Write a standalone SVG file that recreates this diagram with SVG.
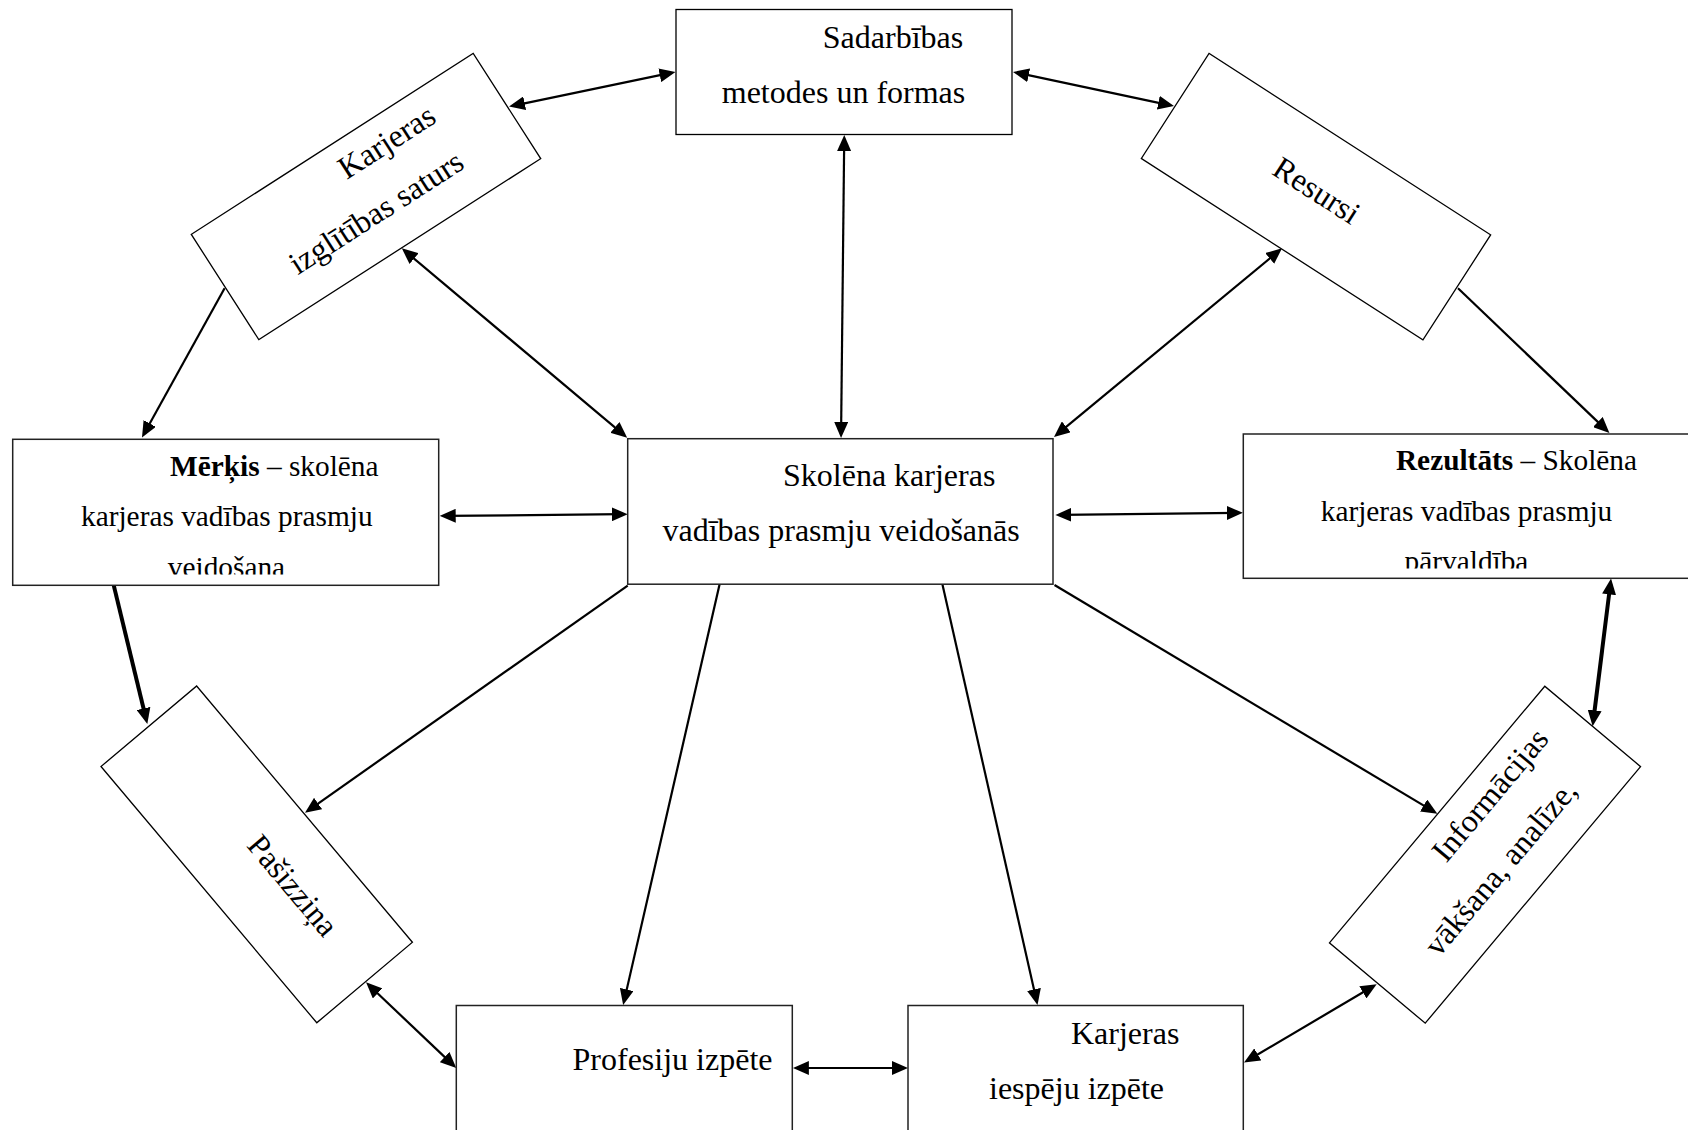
<svg xmlns="http://www.w3.org/2000/svg" width="1688" height="1130" viewBox="0 0 1688 1130">
<style>
  .box { fill: #fff; stroke: #000; stroke-width: 1.3; }
  .boxh { fill: #fff; stroke: #222; stroke-width: 1.5; }
  .t { font-family: "Liberation Serif", "Times New Roman", serif; font-size: 32px; fill: #000; text-anchor: middle; }
  .ts { font-family: "Liberation Serif", "Times New Roman", serif; font-size: 29.33px; fill: #000; text-anchor: middle; }
  .b { font-weight: bold; }
  .c { fill: none; stroke: #000; stroke-width: 2.2; }
  .ck { fill: none; stroke: #000; stroke-width: 4; }
</style>
<defs>
  <marker id="ah" markerUnits="userSpaceOnUse" markerWidth="16" markerHeight="14" refX="10" refY="7" orient="auto-start-reverse">
    <path d="M0,0 L16,7 L0,14 z" fill="#000"/>
  </marker>
  <clipPath id="clipMerkis"><rect x="13" y="440" width="425" height="134.5"/></clipPath>
  <clipPath id="clipRez"><rect x="1244" y="435" width="444" height="133.5"/></clipPath>
</defs>
<rect width="1688" height="1130" fill="#fff"/>

<g id="connectors">
  <line class="c" x1="514.9" y1="105.3" x2="669.6" y2="73.2" marker-start="url(#ah)" marker-end="url(#ah)"/>
  <line class="c" x1="1018.9" y1="73.2" x2="1168.1" y2="104.8" marker-start="url(#ah)" marker-end="url(#ah)"/>
  <line class="c" x1="844.2" y1="141" x2="841.1" y2="432" marker-start="url(#ah)" marker-end="url(#ah)"/>
  <line class="c" x1="406.4" y1="252.2" x2="622.6" y2="433.8" marker-start="url(#ah)" marker-end="url(#ah)"/>
  <line class="c" x1="1277.4" y1="252.1" x2="1058.6" y2="433.2" marker-start="url(#ah)" marker-end="url(#ah)"/>
  <line class="c" x1="224.6" y1="288.3" x2="144.9" y2="432.2" marker-end="url(#ah)"/>
  <line class="c" x1="1458" y1="288.3" x2="1605.1" y2="428.9" marker-end="url(#ah)"/>
  <line class="c" x1="445.7" y1="515.9" x2="621.7" y2="514.2" marker-start="url(#ah)" marker-end="url(#ah)"/>
  <line class="c" x1="1061.4" y1="514.9" x2="1236.9" y2="512.9" marker-start="url(#ah)" marker-end="url(#ah)"/>
  <line class="ck" x1="113.8" y1="585.6" x2="145.9" y2="718.2" marker-end="url(#ah)"/>
  <line class="c" x1="627.7" y1="585.6" x2="309.9" y2="809.3" marker-end="url(#ah)"/>
  <line class="c" x1="719.6" y1="584.3" x2="624.5" y2="999.2" marker-end="url(#ah)"/>
  <line class="c" x1="942.4" y1="584.3" x2="1036.2" y2="999.2" marker-end="url(#ah)"/>
  <line class="c" x1="1054.5" y1="585" x2="1432.2" y2="810.6" marker-end="url(#ah)"/>
  <line class="ck" x1="1610.3" y1="584.4" x2="1593.4" y2="720.3" marker-start="url(#ah)" marker-end="url(#ah)"/>
  <line class="c" x1="370.4" y1="986.5" x2="451.9" y2="1063.9" marker-start="url(#ah)" marker-end="url(#ah)"/>
  <line class="c" x1="798.9" y1="1068" x2="902" y2="1068" marker-start="url(#ah)" marker-end="url(#ah)"/>
  <line class="c" x1="1249.2" y1="1059.5" x2="1371.5" y2="987.3" marker-start="url(#ah)" marker-end="url(#ah)"/>
</g>

<g id="node-sadarbibas">
  <rect class="box" x="676" y="9.5" width="336" height="125"/>
  <text class="t" x="893" y="48.3">Sadarbības</text>
  <text class="t" x="843.5" y="103.3">metodes un formas</text>
</g>

<g id="node-karjeras-saturs" transform="translate(366,196.5) rotate(-32.7)">
  <rect class="box" x="-167.5" y="-62.5" width="335" height="125"/>
  <text class="t" x="47" y="-24.3">Karjeras</text>
  <text class="t" x="0" y="29.5">izglītības saturs</text>
</g>

<g id="node-resursi" transform="translate(1316,196.7) rotate(32.8)">
  <rect class="box" x="-167.5" y="-62.5" width="335" height="125"/>
  <text class="t" x="-2.8" y="5">Resursi</text>
</g>

<g id="node-merkis">
  <rect class="boxh" x="12.7" y="439.3" width="426" height="146"/>
  <g clip-path="url(#clipMerkis)">
    <text class="ts" x="274.3" y="475.7"><tspan class="b">Mērķis</tspan> – skolēna</text>
    <text class="ts" x="226.8" y="526.4">karjeras vadības prasmju</text>
    <text class="ts" x="226.5" y="577.1">veidošana</text>
  </g>
</g>

<g id="node-centrs">
  <rect class="boxh" x="627.7" y="438.7" width="425.3" height="145.5"/>
  <text class="t" x="889.2" y="485.6">Skolēna karjeras</text>
  <text class="t" x="841.1" y="541.3">vadības prasmju veidošanās</text>
</g>

<g id="node-rezultats">
  <rect class="boxh" x="1243.3" y="434" width="450" height="144.3"/>
  <g clip-path="url(#clipRez)">
    <text class="ts" x="1516.5" y="470"><tspan class="b">Rezultāts</tspan> – Skolēna</text>
    <text class="ts" x="1466.5" y="520.7">karjeras vadības prasmju</text>
    <text class="ts" x="1466.5" y="571.4">pārvaldība</text>
  </g>
</g>

<g id="node-pasizzina" transform="translate(256.7,854.4) rotate(49.9)">
  <rect class="box" x="-167.5" y="-62.5" width="335" height="125"/>
  <text class="t" x="47" y="3">Pašizziņa</text>
</g>

<g id="node-informacijas" transform="translate(1485,854.7) rotate(-50)">
  <rect class="box" x="-167.5" y="-62.5" width="335" height="125"/>
  <text class="t" x="49" y="-24">Informācijas</text>
  <text class="t" x="0" y="31">vākšana, analīze,</text>
</g>

<g id="node-profesiju">
  <rect class="boxh" x="456.3" y="1005.5" width="336" height="200"/>
  <text class="t" x="672.5" y="1070">Profesiju izpēte</text>
</g>

<g id="node-karjeras-iespeju">
  <rect class="boxh" x="908" y="1005.5" width="335.3" height="200"/>
  <text class="t" x="1125.2" y="1044.4">Karjeras</text>
  <text class="t" x="1076.5" y="1098.7">iespēju izpēte</text>
</g>
</svg>
